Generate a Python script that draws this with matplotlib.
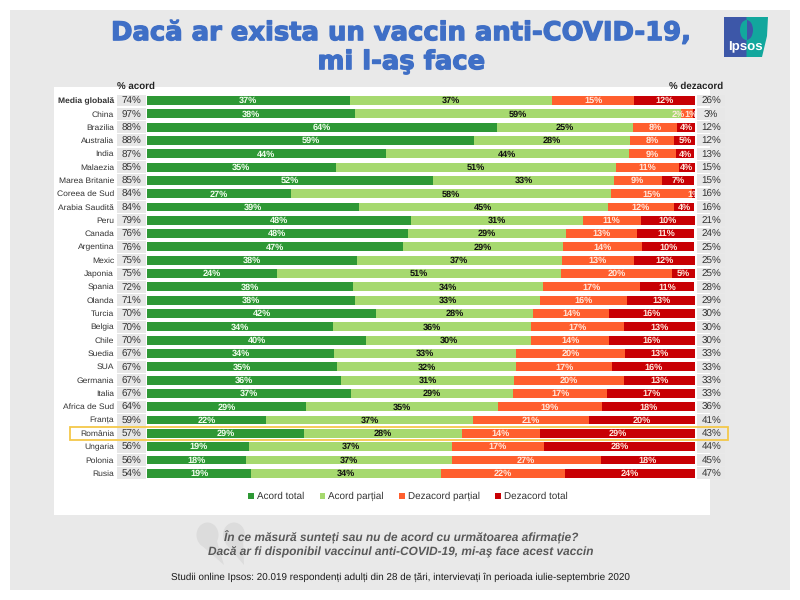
import matplotlib
matplotlib.use("Agg")
import matplotlib.pyplot as plt
import matplotlib.patheffects as pe
from matplotlib.patches import Rectangle, Polygon, Ellipse

plt.rcParams['font.family'] = ['Liberation Sans', 'DejaVu Sans']
plt.rcParams['text.hinting'] = 'no_hinting'

countries = ["Media globală","China","Brazilia","Australia","India","Malaezia","Marea Britanie",
             "Coreea de Sud","Arabia Saudită","Peru","Canada","Argentina","Mexic","Japonia","Spania",
             "Olanda","Turcia","Belgia","Chile","Suedia","SUA","Germania","Italia","Africa de Sud",
             "Franța","România","Ungaria","Polonia","Rusia"]
agree_sum = [74,97,88,88,87,85,85,84,84,79,76,76,75,75,72,71,70,70,70,67,67,67,67,64,59,57,56,56,54]
disagree_sum = [26,3,12,12,13,15,15,16,16,21,24,25,25,25,28,29,30,30,30,33,33,33,33,36,41,43,44,45,47]

# drawn widths
total_agree = [37.0,38.0,63.9,59.7,43.6,34.4,52.2,26.3,38.7,48.2,47.6,46.7,38.3,23.7,37.6,38.0,41.8,33.9,40.0,34.1,34.7,35.4,37.2,29.0,21.7,28.7,18.7,18.1,19.0]
part_agree = [36.9,59.5,24.8,28.5,44.3,51.2,33.0,58.3,45.4,31.3,28.8,29.2,37.4,51.8,34.7,33.8,28.7,36.2,30.1,33.3,32.7,31.6,29.6,35.1,37.8,28.8,37.0,37.5,34.6]
part_dis = [15.0,2.2,8.0,8.0,8.6,11.4,8.7,14.9,12.0,10.6,13.1,14.5,13.2,20.3,17.6,15.8,13.8,17.0,14.2,19.8,17.5,20.1,17.2,18.9,21.2,14.2,16.7,27.2,22.6]
total_dis = [11.1,0.4,3.3,3.9,3.4,3.0,6.0,0.6,3.8,9.9,10.4,9.5,11.1,4.2,10.0,12.5,15.7,12.9,15.7,12.8,15.2,12.9,16.1,17.0,19.3,28.3,27.6,17.2,23.9]

# printed labels
lab_total_agree = [37,38,64,59,44,35,52,27,39,48,48,47,38,24,38,38,42,34,40,34,35,36,37,29,22,29,19,18,19]
lab_part_agree = [37,59,25,28,44,51,33,58,45,31,29,29,37,51,34,33,28,36,30,33,32,31,29,35,37,28,37,37,34]
lab_part_dis = [15,2,8,8,9,11,9,15,12,11,13,14,13,20,17,16,14,17,14,20,17,20,17,19,21,14,17,27,22]
lab_total_dis = [12,1,4,5,4,4,7,1,4,10,11,10,12,5,11,13,16,13,16,13,16,13,17,18,20,29,28,18,24]

series = [("Acord total", total_agree, lab_total_agree, "#2E9835", "#F4FFF0"),
          ("Acord parțial", part_agree, lab_part_agree, "#A6D96F", "#111111"),
          ("Dezacord parțial", part_dis, lab_part_dis, "#FF5F2E", "#FFE9DD"),
          ("Dezacord total", total_dis, lab_total_dis, "#C80004", "#FFE9DD")]
# China's two tiny labels sit left of their segments in the reference
label_shift = {(1, "Dezacord parțial"): -1.6, (1, "Dezacord total"): -0.7}

W, H = 800, 600
fig = plt.figure(figsize=(8, 6), dpi=100, facecolor="white")

# page furniture in pixel coordinates
bg = fig.add_axes([0, 0, 1, 1], zorder=0)
bg.set_xlim(0, W); bg.set_ylim(H, 0); bg.axis("off")
bg.add_patch(Rectangle((10, 10), 780, 580, fc="#E9E9E9", ec="none"))
bg.add_patch(Rectangle((54, 87), 656, 428, fc="white", ec="none"))
title_font = dict(ha="center", va="center", fontsize=18.6, fontweight="bold", color="#3F6FC6", family="DejaVu Sans",
                  path_effects=[pe.withStroke(linewidth=0.9, foreground="#3F6FC6")])
bg.text(401.5, 33, "Dacă ar exista un vaccin anti-COVID-19,", **title_font)
bg.text(401.5, 62, "mi l-aş face", **title_font)

# logo
bg.add_patch(Rectangle((724, 17), 22.5, 40, fc="#3D57A8", ec="none"))
bg.add_patch(Polygon([(746.5, 17), (768, 17), (767, 36), (762, 57), (746.5, 57)], fc="#12A79D", ec="none"))
left_half = Rectangle((730, 17), 16.5, 25, transform=bg.transData)
right_half = Rectangle((746.5, 17), 16, 25, transform=bg.transData)
hl_head = Ellipse((746.5, 30), 13, 20, fc="#12A79D", ec="none")
hr_head = Ellipse((746.5, 30), 13, 20, fc="#3D57A8", ec="none")
bg.add_patch(hl_head); bg.add_patch(hr_head)
hl_head.set_clip_path(left_half); hr_head.set_clip_path(right_half)
bg.text(745.5, 46.5, "Ipsos", ha="center", va="center", fontsize=9.5, fontweight="bold", color="white")

bg.text(117, 86, "% acord", ha="left", va="center", fontsize=7.0, fontweight="bold", color="#222222")
bg.text(723, 86, "% dezacord", ha="right", va="center", fontsize=7.0, fontweight="bold", color="#222222")

# quotation mark ornament
for cx, tail in ((207.5, [(200, 544), (216, 538), (224, 565)]), (234, [(226, 544), (243, 538), (244, 565)])):
    bg.add_patch(Ellipse((cx, 535), 22, 25, fc="#DCDCDC", ec="none"))
    bg.add_patch(Polygon(tail, fc="#DCDCDC", ec="none"))

bg.text(401, 537, "În ce măsură sunteți sau nu de acord cu următoarea afirmație?", ha="center", va="center",
        fontsize=8.6, fontstyle="italic", fontweight="bold", color="#595959")
bg.text(401, 552, "Dacă ar fi disponibil vaccinul anti-COVID-19, mi-aş face acest vaccin", ha="center", va="center",
        fontsize=8.6, fontstyle="italic", fontweight="bold", color="#595959")
bg.text(400, 577, "Studii online Ipsos: 20.019 respondenți adulți din 28 de țări, intervievați în perioada iulie-septembrie 2020",
        ha="center", va="center", fontsize=7.15, color="#1A1A1A")

# chart axes: 0..100 spans the bar track
x0, x1, ytop, ybot = 147, 695, 93.85, 479.95
ax = fig.add_axes([x0 / W, 1 - ybot / H, (x1 - x0) / W, (ybot - ytop) / H], zorder=1)
ax.patch.set_alpha(0)
ax.set_xlim(0, 100)
ax.set_ylim(len(countries) - 0.5, -0.5)
ax.axis("off")

rows = list(range(len(countries)))
left = [0.0] * len(rows)
handles = []
for name, vals, labs, col, tcol in series:
    bars = ax.barh(rows, vals, left=left, height=0.67, color=col, label=name, linewidth=0)
    handles.append(bars)
    for r, v, l, lb in zip(rows, vals, left, labs):
        ax.text(l + v / 2 + label_shift.get((r, name), 0), r + 0.03, f"{lb}%", ha="center", va="center",
                fontsize=6.6, fontweight="bold", color=tcol, clip_on=True)
    left = [a + b for a, b in zip(left, vals)]

ax.barh(rows, [5.3] * len(rows), left=[-5.5] * len(rows), height=0.9, color="#E7E7E7", linewidth=0, clip_on=False)
ax.barh(rows, [5.1] * len(rows), left=[100.4] * len(rows), height=0.9, color="#E7E7E7", linewidth=0, clip_on=False)
for r, c, a, d in zip(rows, countries, agree_sum, disagree_sum):
    ax.text(-6.0, r - 0.02, c, ha="right", va="center_baseline", fontsize=6.1, color="#333333",
            fontweight="bold" if r == 0 else "normal", clip_on=False)
    ax.text(-2.85, r + 0.08, f"{a}%", ha="center", va="center", fontsize=7.1, color="#333333", clip_on=False)
    ax.text(102.95, r + 0.08, f"{d}%", ha="center", va="center", fontsize=7.1, color="#333333", clip_on=False)

hl = countries.index("România")
ax.add_patch(Rectangle((-14.0, hl - 0.48), 120.0, 0.96, fc="none", ec="#F4C84A", lw=1.3, clip_on=False, zorder=5))

ax.legend(handles=handles, loc="center", bbox_to_anchor=(0.476, (ybot - 496.5) / (ybot - ytop)),
          ncol=4, frameon=False, fontsize=7.1, handlelength=0.55, handleheight=0.55,
          handletextpad=0.3, columnspacing=1.6, labelcolor="#333333", borderpad=0)

fig.savefig("out.png", dpi=100, facecolor="white")
